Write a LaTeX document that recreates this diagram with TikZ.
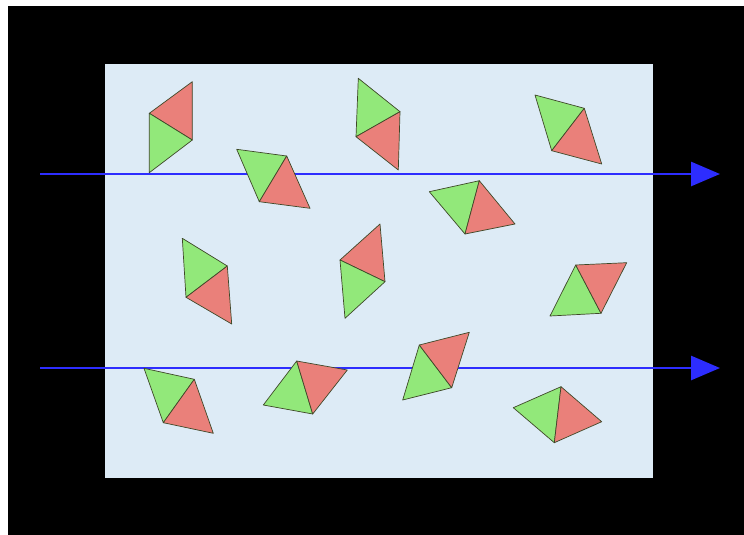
\documentclass[tikz,border=0pt]{standalone}
\usetikzlibrary{arrows.meta}
\definecolor{bgblue}{RGB}{221,235,246}
\definecolor{gfill}{RGB}{146,232,122}
\definecolor{rfill}{RGB}{234,128,122}
\definecolor{edgec}{RGB}{62,72,40}
\definecolor{arrowblue}{RGB}{45,45,255}
\tikzset{
  gtri/.style={fill=gfill,draw=edgec,line width=0.7pt,line join=round},
  rtri/.style={fill=rfill,draw=edgec,line width=0.7pt,line join=round},
  flowarrow/.style={draw=arrowblue,line width=2.6pt,-{Triangle[length=29pt,width=24pt]}}
}
\newcommand\mytri[4]{\path[#1] #2 -- #3 -- #4 -- cycle;}
\begin{document}
\begin{tikzpicture}[x=1pt,y=-1pt]
\useasboundingbox (0,0) rectangle (744,535);
\fill[white] (0,0) rectangle (744,535);
\fill[black] (8,6) rectangle (744,535);
\fill[bgblue] (105,64) rectangle (653,478);
% flow arrows
\coordinate (a1s) at (40,174); \coordinate (a1e) at (720,174);
\coordinate (a2s) at (40,368); \coordinate (a2e) at (720,368);
\draw[flowarrow] (a1s) -- (a1e);
\draw[flowarrow] (a2s) -- (a2e);
% 1
\mytri{rtri}{(192.3,81.7)}{(149.3,113.3)}{(192.3,140)}
\mytri{gtri}{(149.3,113.3)}{(192.3,140)}{(149.3,172.7)}
% 2
\mytri{gtri}{(236.7,149.3)}{(286.7,156)}{(259.3,201.7)}
\mytri{rtri}{(286.7,156)}{(259.3,201.7)}{(310,208.3)}
% 3
\mytri{gtri}{(358.3,78.3)}{(400,111.7)}{(356,136.7)}
\mytri{rtri}{(400,111.7)}{(356,136.7)}{(398.3,170)}
% 4
\mytri{gtri}{(535,95)}{(584.3,108.3)}{(551.7,150.7)}
\mytri{rtri}{(584.3,108.3)}{(551.7,150.7)}{(601.7,164)}
% 5
\mytri{gtri}{(429.3,191.7)}{(479.3,180.7)}{(465,234)}
\mytri{rtri}{(479.3,180.7)}{(465,234)}{(515,224)}
% 6
\mytri{gtri}{(182.3,238.3)}{(227.3,266)}{(186,297.3)}
\mytri{rtri}{(227.3,266)}{(186,297.3)}{(231.7,324)}
% 7
\mytri{rtri}{(380,224)}{(340,260)}{(385,281.7)}
\mytri{gtri}{(340,260)}{(385,281.7)}{(345,318.3)}
% 8
\mytri{gtri}{(575.7,265)}{(550,316)}{(601,313.3)}
\mytri{rtri}{(575.7,265)}{(626.7,262.7)}{(601,313.3)}
% 9
\mytri{gtri}{(144,368.3)}{(194.3,379.3)}{(163.3,422.7)}
\mytri{rtri}{(194.3,379.3)}{(163.3,422.7)}{(213.3,433.3)}
% 10
\mytri{gtri}{(296.7,361)}{(263.3,405)}{(312.7,414)}
\mytri{rtri}{(296.7,361)}{(347.3,370)}{(312.7,414)}
% 11
\mytri{gtri}{(419.3,345)}{(402.7,400)}{(451.7,387.7)}
\mytri{rtri}{(419.3,345)}{(469.3,332.3)}{(451.7,387.7)}
% 12
\mytri{gtri}{(513.3,407.7)}{(561,386.7)}{(554.3,442.7)}
\mytri{rtri}{(561,386.7)}{(554.3,442.7)}{(601.7,421.7)}
\end{tikzpicture}
\end{document}
